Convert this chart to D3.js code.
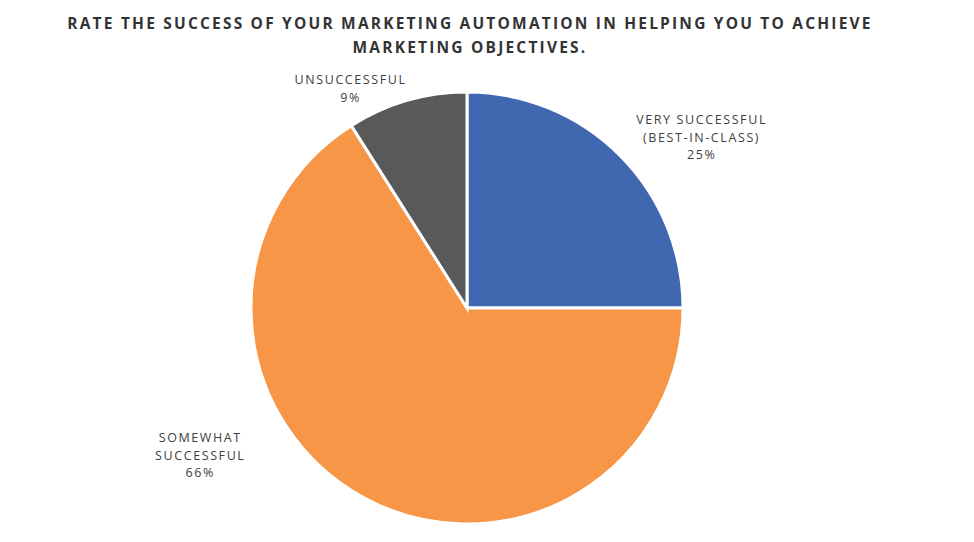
<!DOCTYPE html>
<html><head><meta charset="utf-8">
<script src="https://cdn.jsdelivr.net/npm/d3@7"></script>
<style>body{margin:0;background:#fff}text{font-family:"Open Sans",sans-serif}</style>
</head><body><svg id="c" width="974" height="542"></svg>
<script>
// data
const categories = ["VERY SUCCESSFUL|(BEST-IN-CLASS)", "SOMEWHAT|SUCCESSFUL", "UNSUCCESSFUL"];
const values = [25, 66, 9];
const colors = ["#4068b1", "#f79646", "#595959"];
// label placement (angle in degrees, distance from centre)
const labelPos = [[54, 290], [241, 305], [332, 248]];

const svg = d3.select("#c");
const cx = 467, cy = 308, r = 216;

svg.append("text").attr("x", 470).attr("y", 29).attr("text-anchor", "middle")
	.attr("font-size", 15.5).attr("font-weight", "bold").attr("fill", "#333")
	.attr("letter-spacing", 2.2)
	.selectAll("tspan").data(["RATE THE SUCCESS OF YOUR MARKETING AUTOMATION IN HELPING YOU TO ACHIEVE", "MARKETING OBJECTIVES."])
	.join("tspan").attr("x", 470).attr("dy", (d, i) => i ? 24 : 0).text(d => d);

const pie = d3.pie().sort(null).value(d => d)(values);
const arc = d3.arc().innerRadius(0).outerRadius(r);
const g = svg.append("g").attr("transform", "translate(" + cx + "," + cy + ")");
g.selectAll("path").data(pie).join("path")
	.attr("d", arc)
	.attr("fill", (d, i) => colors[i])
	.attr("stroke", "#fff").attr("stroke-width", 3);

g.selectAll("text.lbl").data(pie).join("text")
	.attr("class", "lbl")
	.attr("text-anchor", "middle")
	.attr("font-size", 12.5).attr("fill", "#404040").attr("letter-spacing", 1.6)
	.each(function(d, i) {
		const a = labelPos[i][0] * Math.PI / 180, dist = labelPos[i][1];
		const x = Math.sin(a) * dist, y = -Math.cos(a) * dist;
		const lines = categories[i].split("|").concat([values[i] + "%"]);
		const y0 = y - (lines.length - 1) * 17.5 / 2 + 4;
		d3.select(this).selectAll("tspan").data(lines).join("tspan")
			.attr("x", x).attr("y", (t, k) => y0 + k * 17.5).text(t => t);
	});
</script></body></html>
